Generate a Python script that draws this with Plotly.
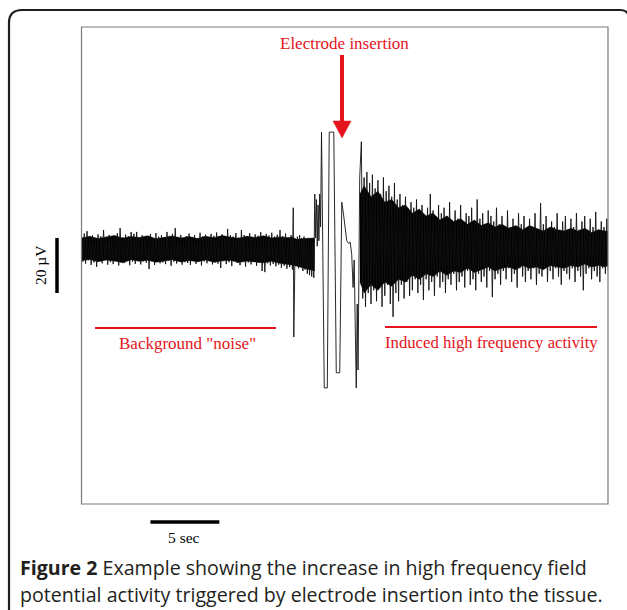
import numpy as np
import plotly.graph_objects as go

# ---------------- data (time in s, potential in µV) ----------------
DT = 0.2  # sampling step of the drawn envelope samples (s)

# background "noise" section: upper / lower excursions per sample, starting at t=0
bg_t0 = 0.0
bg_upper = [4.8, 5.6, 6.5, 4.2, 5.0, 3.9, 5.3, 4.6, 6.9, 4.4,
            5.1, 3.8, 4.9, 5.7, 7.6, 4.3, 5.2, 4.7, 6.2, 5.5,
            6.2, 4.1, 5.0, 3.7, 4.6, 5.4, 4.0, 5.8, 4.5, 5.0,
            4.2, 6.2, 4.8, 5.5, 7.6, 4.4, 5.1, 3.9, 4.7, 5.6,
            4.3, 5.0, 3.8, 5.9, 4.6, 5.2, 4.0, 5.5, 4.8, 6.0,
            4.4, 5.3, 4.1, 7.3, 5.0, 4.5, 5.8, 4.2, 6.9, 5.1,
            4.6, 5.7, 4.0, 5.3, 4.8, 6.1, 4.3, 5.5, 4.9, 5.9,
            4.5, 5.2, 6.9, 4.7, 5.6, 4.2, 5.0]
bg_lower = [-4.6, -5.3, -4.1, -5.8, -4.9, -6.5, -4.4, -5.2, -4.0, -5.7,
            -4.8, -5.5, -4.3, -6.0, -4.7, -5.1, -4.2, -5.9, -4.6, -5.4,
            -4.0, -5.6, -4.5, -5.0, -7.3, -4.4, -5.8, -4.1, -5.2, -4.9,
            -5.5, -4.3, -6.1, -4.6, -5.3, -4.0, -5.7, -4.8, -5.1, -5.8,
            -4.2, -5.4, -4.7, -6.0, -4.5, -5.2, -4.1, -5.6, -4.9, -5.3,
            -6.9, -4.4, -5.5, -4.8, -6.2, -4.3, -5.1, -5.9, -4.6, -6.4,
            -4.9, -5.6, -4.5, -6.1, -5.0, -8.0, -8.4, -5.2, -6.0, -5.4,
            -6.3, -5.7, -6.8, -6.1, -7.2, -6.6, -7.5]

# electrode insertion artefact
ins_t = [15.36, 15.40, 15.50, 15.58, 15.66, 15.74, 15.82, 15.90, 15.98, 16.06,
         16.14, 16.22, 16.30, 16.38, 16.46, 16.54, 16.62, 16.70, 16.78, 16.85,
         16.92, 16.98, 17.04, 17.10, 17.16, 17.22, 17.28, 17.34, 17.41, 17.61,
         17.83, 17.97, 18.30, 18.48, 18.73, 18.88, 19.02, 19.24, 19.38, 19.49,
         19.60, 19.70, 19.78, 19.86, 19.93, 20.00, 20.06, 20.12, 20.18]
ins_v = [15.0, -32.0, 3.0, -6.0, 4.5, -7.0, 5.0, -6.5, 4.0, -8.0,
         4.5, -7.5, 3.5, -9.0, 4.0, -9.5, 3.0, -10.0, 2.5, -10.5,
         20.0, 4.0, 18.0, 1.0, 16.0, 3.0, 20.0, 8.0, 42.5, -50.5,
         -50.5, 42.5, 42.5, -45.0, -45.0, 17.0, 12.0, 3.0, 2.0, 2.5,
         -2.0, -14.0, -4.0, -30.0, -50.5, -20.0, -44.0, -10.0, 26.0]

# induced high frequency activity section
hf_t0 = 20.3
hf_upper = [39, 26, 28, 24, 27, 22, 25, 20, 26, 21,
            23, 19, 24, 18, 20, 16, 19, 14, 17, 15,
            18, 13, 16, 12, 15, 20, 14, 11, 16, 13,
            15, 12, 17, 10, 14, 11, 16, 9, 13, 12,
            15, 10, 18, 11, 13, 9, 14, 12, 10, 15,
            9, 12, 7, 14, 8, 11, 7, 13, 9, 12,
            7, 11, 8, 13, 7, 16.7, 9, 12, 7, 10,
            8, 13, 7, 10, 12, 7, 11, 8, 13, 7,
            10, 12, 7, 11, 8, 13.5, 7, 10, 8, 11]
hf_lower = [-18, -21, -16, -20, -15, -19, -14, -21, -17, -13,
            -20, -24.7, -16, -19, -13, -18, -12, -17, -15, -11,
            -16, -13, -18.5, -11, -15, -12, -17, -10, -14, -12,
            -16, -11, -13, -9, -15, -12, -10, -14, -8, -13,
            -11, -15, -9, -12, -10, -14, -8, -17.5, -11, -9,
            -13, -8, -11, -7, -12, -9, -14, -7, -10, -12,
            -8, -11, -7, -13, -9, -10, -7, -12, -8, -11,
            -7, -10, -13, -8, -9, -11, -7, -12, -8, -10,
            -15, -9, -7, -11, -8, -10, -12, -7, -9, -8]

# dense core of the trace (solid black band), before the insertion
core_bg_t = [0.0, 0.6, 1.2, 1.8, 2.4, 3.0, 3.6, 4.2, 4.8, 5.4,
             6.0, 6.6, 7.2, 7.8, 8.4, 9.0, 9.6, 10.2, 10.8, 11.4,
             12.0, 12.6, 13.2, 13.8, 14.4, 15.0, 15.3, 15.6, 16.2, 16.9]
core_bg_up = [4.0, 4.6, 3.8, 4.4, 4.9, 3.9, 4.5, 4.2, 4.8, 3.7,
              4.3, 4.7, 4.0, 4.5, 3.8, 4.6, 4.1, 4.9, 4.3, 3.9,
              4.6, 4.2, 4.8, 4.0, 4.4, 4.1, 4.3, 3.5, 3.8, 4.0]
core_bg_lo = [-4.2, -3.8, -4.6, -4.0, -4.4, -5.0, -3.9, -4.5, -4.1, -4.8,
              -4.3, -3.9, -4.7, -4.2, -4.6, -4.0, -4.8, -4.3, -4.1, -4.9,
              -4.4, -4.7, -5.0, -4.5, -5.2, -5.6, -5.8, -6.0, -7.0, -8.0]
# dense core after the insertion
core_hf_t = [20.2, 20.5, 21.0, 21.5, 22.0, 22.5, 23.0, 23.5, 24.0, 24.5,
             25.0, 25.5, 26.0, 26.5, 27.0, 27.5, 28.0, 28.5, 29.0, 29.5,
             30.0, 30.5, 31.0, 31.5, 32.0, 32.5, 33.0, 33.5, 34.0, 34.5,
             35.0, 35.5, 36.0, 36.5, 37.0, 37.5, 38.0, 38.19]
core_hf_up = [20, 23, 19, 21, 17, 18, 15, 16, 13, 14.5,
              12, 13, 10.5, 12, 10, 11, 9, 10.5, 8.5, 9.5,
              8, 9, 7.5, 8.5, 7, 8.5, 7.5, 6.5, 8, 7,
              6.5, 7.5, 6.5, 7.5, 6, 7, 6.5, 6.5]
core_hf_lo = [-12, -16, -13, -15, -12, -13.5, -11, -12, -9.5, -11,
              -9, -10, -8, -9.5, -8, -8.5, -7, -8.5, -7.5, -6.5,
              -8, -7, -6.5, -7.5, -6, -7, -6.5, -7.5, -6, -6.5,
              -7, -6, -6.5, -5.5, -6.5, -6, -6.5, -6]

# scale bars
time_bar = (5.0, 10.0)      # s  -> "5 sec"
volt_bar = (-16.0, 4.0)     # µV -> "20 µV"
x_range = [0.0, 38.19]
y_range = [-92.7, 80.7]

# ---------------- build traces ----------------
def zigzag(t0, upper, lower):
    ts, vs = [], []
    for i, (u, l) in enumerate(zip(upper, lower)):
        t = t0 + i * DT
        ts += [t, t + DT / 2]
        vs += [u, l]
    return ts, vs

t1, v1 = zigzag(bg_t0, bg_upper, bg_lower)
t3, v3 = zigzag(hf_t0, hf_upper, hf_lower)
t_all = t1 + ins_t + t3
v_all = v1 + ins_v + v3

W, H = 627, 610
def PX(x): return x / W
def PY(y): return 1 - y / H

fig = go.Figure()
for ct, cu, cl in [(core_bg_t, core_bg_up, core_bg_lo), (core_hf_t, core_hf_up, core_hf_lo)]:
    fig.add_trace(go.Scatter(x=ct + ct[::-1], y=cu + cl[::-1],
                             mode="lines", fill="toself", fillcolor="#000000",
                             line=dict(color="#000000", width=0.5),
                             hoverinfo="skip", showlegend=False))
fig.add_trace(go.Scatter(x=t_all, y=v_all, mode="lines",
                         line=dict(color="#111111", width=0.9),
                         hoverinfo="skip", showlegend=False))

RED = "#e3141b"
serif = "Liberation Serif, Times New Roman, serif"

shapes = [
    # outer rounded frame
    dict(type="path", xref="paper", yref="paper",
         path=f"M {PX(9)},{PY(615)} L {PX(9)},{PY(23)} Q {PX(9)},{PY(10)} {PX(22)},{PY(10)} "
              f"L {PX(620)},{PY(10)} Q {PX(626)},{PY(10)} {PX(628)},{PY(14)}",
         line=dict(color="#1e1e1e", width=2.2)),
    # plot frame
    dict(type="rect", xref="paper", yref="paper",
         x0=PX(81.5), x1=PX(608), y0=PY(504), y1=PY(27),
         line=dict(color="#7a7a7a", width=1.2)),
    # time scale bar
    dict(type="line", xref="x", yref="paper",
         x0=time_bar[0], x1=time_bar[1], y0=PY(522), y1=PY(522),
         line=dict(color="#000", width=3.5)),
    # voltage scale bar
    dict(type="line", xref="paper", yref="y",
         x0=PX(57), x1=PX(57), y0=volt_bar[0], y1=volt_bar[1],
         line=dict(color="#000", width=3.5)),
    # red bars
    dict(type="line", xref="paper", yref="paper",
         x0=PX(95), x1=PX(276), y0=PY(328), y1=PY(328),
         line=dict(color=RED, width=2.2)),
    dict(type="line", xref="paper", yref="paper",
         x0=PX(385), x1=PX(597), y0=PY(327), y1=PY(327),
         line=dict(color=RED, width=2.2)),
    # arrow shaft and head
    dict(type="line", xref="paper", yref="paper",
         x0=PX(342), x1=PX(342), y0=PY(55), y1=PY(123),
         line=dict(color=RED, width=4)),
    dict(type="path", xref="paper", yref="paper",
         path=f"M {PX(333)},{PY(121)} L {PX(351)},{PY(121)} L {PX(342)},{PY(138)} Z",
         fillcolor=RED, line=dict(color=RED, width=0.5)),
]

def txt(x, y, s, size, color="#000", family=serif, angle=0):
    return dict(x=PX(x), y=PY(y), xref="paper", yref="paper", text=s,
                showarrow=False, xanchor="center", yanchor="middle",
                font=dict(size=size, color=color, family=family), textangle=angle)

sans = "Open Sans, Noto Sans, sans-serif"
annotations = [
    txt(344, 43, "Electrode insertion", 17, RED),
    txt(187, 343, 'Background "noise"', 17, RED),
    txt(491, 342, "Induced high frequency activity", 16.7, RED),
    txt(184, 537, "5 sec", 15.5),
    txt(41, 265, "20 µV", 15.5, angle=-90),
    dict(x=PX(18), y=PY(567), xref="paper", yref="paper", showarrow=False,
         xanchor="left", yanchor="middle",
         text="<b>Figure 2</b> Example showing the increase in high frequency field",
         font=dict(size=19.6, color="#231f20", family=sans)),
    dict(x=PX(18), y=PY(594), xref="paper", yref="paper", showarrow=False,
         xanchor="left", yanchor="middle",
         text="potential activity triggered by electrode insertion into the tissue.",
         font=dict(size=19.6, color="#231f20", family=sans)),
]

fig.update_layout(
    width=W, height=H, autosize=False,
    margin=dict(l=0, r=0, t=0, b=0),
    paper_bgcolor="white", plot_bgcolor="white",
    xaxis=dict(range=x_range, domain=[PX(81.5), PX(608)], visible=False, fixedrange=True),
    yaxis=dict(range=y_range, domain=[PY(504), PY(27)], visible=False, fixedrange=True),
    shapes=shapes, annotations=annotations,
)

fig.write_html("out.html", config={"displayModeBar": False},
               post_script="document.body.style.margin='0';document.body.style.overflow='hidden';")
